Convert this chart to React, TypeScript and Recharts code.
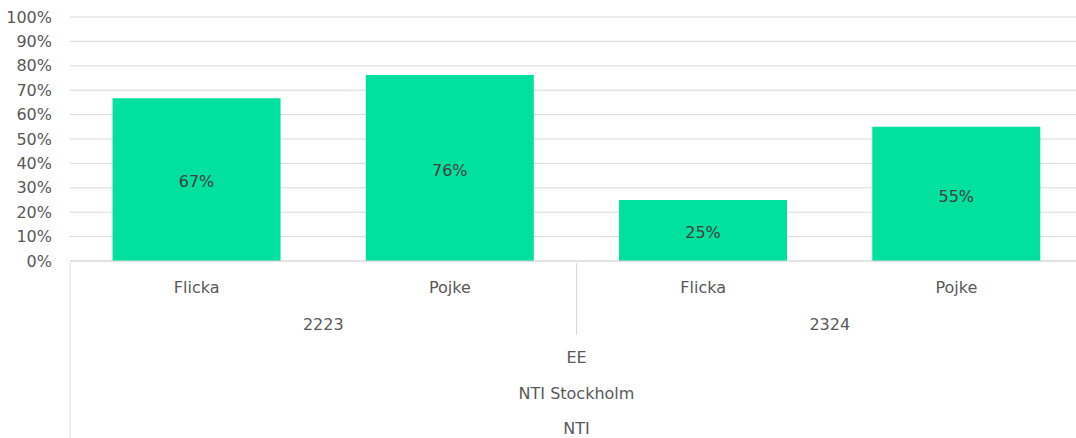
import React from "react";
import {
  BarChart,
  Bar,
  XAxis,
  YAxis,
  CartesianGrid,
  LabelList,
} from "recharts";

const genders = ["Flicka", "Pojke", "Flicka", "Pojke"];
const years = ["2223", "2223", "2324", "2324"];
const programs = ["EE", "EE", "EE", "EE"];
const schools = ["NTI Stockholm", "NTI Stockholm", "NTI Stockholm", "NTI Stockholm"];
const orgs = ["NTI", "NTI", "NTI", "NTI"];
const shares = [0.667, 0.762, 0.25, 0.55];
const yTicks = [0, 0.1, 0.2, 0.3, 0.4, 0.5, 0.6, 0.7, 0.8, 0.9, 1];

const data = genders.map((g, i) => ({
  gender: g,
  year: years[i],
  program: programs[i],
  school: schools[i],
  org: orgs[i],
  share: shares[i],
}));

const FONT = "'DejaVu Sans', sans-serif";
const GREY = "#595959";
const LINE = "#d9d9d9";

const pct = (v: number) => `${Math.round(v * 100)}%`;

// one level of the category axis; optionally draws the group separators
const CatTick = (props: any) => {
  const { x, y, payload, dy, index, kind } = props;
  const off = payload.offset || 0;
  return (
    <g>
      {kind === "gender" && index === 0 && (
        <line x1={x - off} x2={x - off} y1={y} y2={y + 177} stroke={LINE} />
      )}
      {kind === "year" && index > 0 && (
        <line x1={x - off} x2={x - off} y1={y - 40} y2={y + 32} stroke={LINE} />
      )}
      <text x={x} y={y} dy={dy} textAnchor="middle" fill={GREY} fontSize={16} fontFamily={FONT}>
        {payload.value}
      </text>
    </g>
  );
};

// axis ids are named so that they stack in this order under the plot
export default function App() {
  return (
    <div style={{ position: "absolute", left: 0, top: 0, width: 1076, height: 438, overflow: "hidden", background: "#fff" }}>
      <BarChart
        width={1083}
        height={438}
        data={data}
        margin={{ top: 17, right: 0, left: 0, bottom: 0 }}
        barCategoryGap="16.8%"
      >
        <CartesianGrid vertical={false} stroke={LINE} xAxisId="lvl0" />
        <YAxis
          width={70}
          domain={[0, 1]}
          ticks={yTicks}
          tickFormatter={pct}
          axisLine={false}
          tickLine={false}
          tickSize={0}
          tickMargin={18}
          interval={0}
          tick={{ fill: GREY, fontSize: 16, fontFamily: FONT }}
        />
        <XAxis
          xAxisId="lvl0"
          dataKey="gender"
          height={40}
          axisLine={{ stroke: LINE }}
          tickLine={false}
          tickSize={0}
          interval={0}
          tick={<CatTick dy={30} kind="gender" />}
        />
        <XAxis
          xAxisId="lvl1"
          dataKey="year"
          allowDuplicatedCategory={false}
          height={36}
          axisLine={false}
          tickLine={false}
          tickSize={0}
          interval={0}
          tick={<CatTick dy={27} kind="year" />}
        />
        <XAxis
          xAxisId="lvl2"
          dataKey="program"
          allowDuplicatedCategory={false}
          height={35}
          axisLine={false}
          tickLine={false}
          tickSize={0}
          tick={<CatTick dy={24} />}
        />
        <XAxis
          xAxisId="lvl3"
          dataKey="school"
          allowDuplicatedCategory={false}
          height={36}
          axisLine={false}
          tickLine={false}
          tickSize={0}
          tick={<CatTick dy={25} />}
        />
        <XAxis
          xAxisId="lvl4"
          dataKey="org"
          allowDuplicatedCategory={false}
          height={30}
          axisLine={false}
          tickLine={false}
          tickSize={0}
          tick={<CatTick dy={24} />}
        />
        <Bar dataKey="share" xAxisId="lvl0" fill="#00E09E" isAnimationActive={false}>
          <LabelList
            dataKey="share"
            position="center"
            formatter={(v: any) => pct(Number(v))}
            fill="#404040"
            fontSize={16}
            fontFamily={FONT}
            dy={2}
          />
        </Bar>
      </BarChart>
    </div>
  );
}
